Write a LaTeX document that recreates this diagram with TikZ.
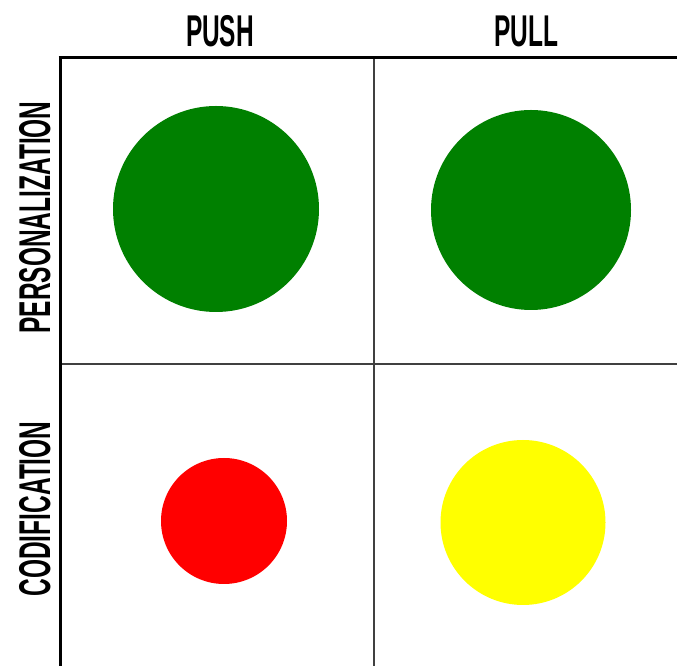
\documentclass[tikz,border=0pt]{standalone}
\usepackage{fontspec}
\usepackage{graphicx}
\setmainfont{Liberation Sans}
\definecolor{dotgreen}{HTML}{008000}
\definecolor{dotred}{HTML}{FF0000}
\definecolor{dotyellow}{HTML}{FFFF00}
\newcommand{\cond}[1]{\scalebox{0.55}[1]{#1}}
\begin{document}
\begin{tikzpicture}[x=1pt,y=1pt,
  hdr/.style={font=\fontsize{44.5}{44.5}\selectfont\bfseries, inner sep=0pt, anchor=base},
  dot/.style={circle, inner sep=0pt, draw=none},
  frame/.style={line width=3pt, black},
  grid/.style={line width=1.3pt, black!75}]
\useasboundingbox (0,0) rectangle (677,666);
\fill[white] (0,0) rectangle (677,666);
% grid lines
\coordinate (tl) at (60,608);
\coordinate (tr) at (677,608);
\coordinate (bl) at (60,0);
\coordinate (mt) at (374,608);
\coordinate (mb) at (374,0);
\coordinate (ml) at (60,302);
\coordinate (mr) at (677,302);
\draw[grid] (mt) -- (mb);
\draw[grid] (ml) -- (mr);
\draw[frame] (tl) -- (bl);
\draw[frame] ([xshift=-1.5pt]tl) -- (tr);
% headers
\node[hdr] (push) at (220,619) {\cond{PUSH}};
\node[hdr] (pull) at (526,619) {\cond{PULL}};
\node[hdr, rotate=90] (pers) at (50,448.5) {\cond{PERSONALIZATION}};
\node[hdr, rotate=90] (codi) at (50,157) {\cond{CODIFICATION}};
% dots
\node[dot, fill=dotgreen, minimum size=206pt] (g1) at (216,457) {};
\node[dot, fill=dotgreen, minimum size=200pt] (g2) at (531,456) {};
\node[dot, fill=dotred, minimum size=126pt] (r1) at (224,145) {};
\node[dot, fill=dotyellow, minimum size=165pt] (y1) at (523,143.5) {};
\end{tikzpicture}
\end{document}
